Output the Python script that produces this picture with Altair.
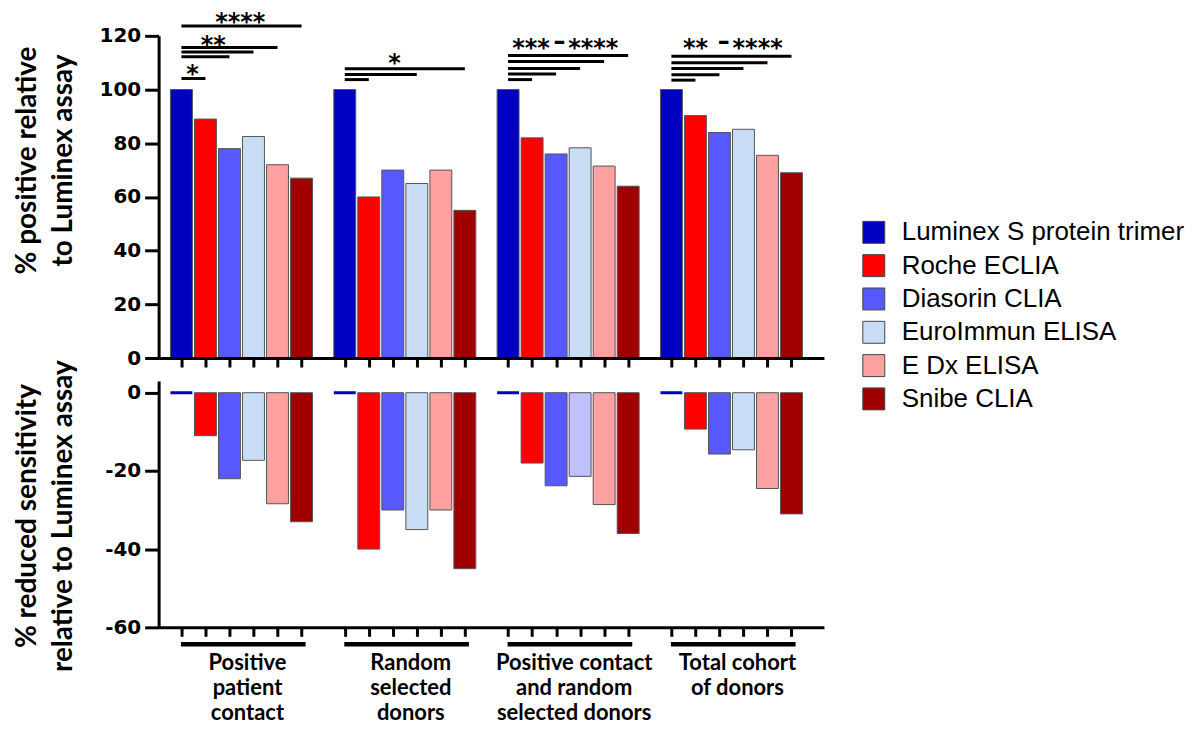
import altair as alt
import pandas as pd

# ---------------- data ----------------
groups = [
    "Positive\npatient\ncontact",
    "Random\nselected\ndonors",
    "Positive contact\nand random\nselected donors",
    "Total cohort\nof donors",
]
assays = [
    "Luminex S protein trimer",
    "Roche ECLIA",
    "Diasorin CLIA",
    "EuroImmun ELISA",
    "E Dx ELISA",
    "Snibe CLIA",
]
colors = ["#0000C0", "#FF0000", "#5858FF", "#C8DDF5", "#FFA0A0", "#A00000"]

# % positive relative to Luminex assay (one value per group)
luminex_pos = [100, 100, 100, 100]
roche_pos = [89, 60, 82, 90.3]
diasorin_pos = [78, 70, 76, 84]
euroimmun_pos = [82.5, 65, 78.3, 85.2]
edx_pos = [72, 70, 71.5, 75.5]
snibe_pos = [67, 55, 64, 69]

# % reduced sensitivity relative to Luminex assay
luminex_red = [0, 0, 0, 0]
roche_red = [-11, -40, -18, -9.3]
diasorin_red = [-22, -30, -23.8, -15.7]
euroimmun_red = [-17.3, -35, -21.4, -14.6]
edx_red = [-28.4, -30, -28.6, -24.5]
snibe_red = [-33, -45, -36, -31]

# significance bars: group index, comparator assay index, bar level
sig_bar_group = [0, 0, 0, 0, 0, 1, 1, 1, 2, 2, 2, 2, 2, 3, 3, 3, 3, 3]
sig_bar_to = [1, 2, 3, 4, 5, 1, 3, 5, 1, 2, 3, 4, 5, 1, 2, 3, 4, 5]
sig_bar_level = [104.1, 112.2, 114.0, 115.7, 123.7,
                 103.7, 105.6, 107.7,
                 103.7, 105.8, 107.8, 110.4, 112.7,
                 103.5, 105.5, 107.8, 110.0, 112.4]

# significance labels
sig_text = ["*", "**", "****", "*", "***", "\u2013", "****", "**", "\u2013", "****"]
sig_text_group = [0, 0, 0, 1, 2, 2, 2, 3, 3, 3]
sig_text_at = [0.46, 1.33, 2.45, 2.07, 0.95, 2.14, 3.55, 1.0, 2.18, 3.59]
sig_text_level = [102.9, 113.7, 122.3, 107.0, 112.6, 115.1, 112.6, 112.6, 115.1, 112.6]

pos_series = [luminex_pos, roche_pos, diasorin_pos, euroimmun_pos, edx_pos, snibe_pos]
red_series = [luminex_red, roche_red, diasorin_red, euroimmun_red, edx_red, snibe_red]

# ---------------- tables ----------------
GSTEP = 6.8
HALF = 0.456

rows = []
for gi, g in enumerate(groups):
    for ai, a in enumerate(assays):
        c = gi * GSTEP + ai
        rows.append(dict(group=g, gi=gi, assay=a, ai=ai, c=c, x0=c - HALF, x1=c + HALF,
                         top=pos_series[ai][gi], red=red_series[ai][gi]))
df = pd.DataFrame(rows)

sig_df = pd.DataFrame(dict(
    xs=[g * GSTEP for g in sig_bar_group],
    xe=[g * GSTEP + t for g, t in zip(sig_bar_group, sig_bar_to)],
    level=sig_bar_level,
))
sig_lab_df = pd.DataFrame(dict(
    tx=[g * GSTEP + a for g, a in zip(sig_text_group, sig_text_at)],
    ty=sig_text_level,
    label=sig_text,
))
grp_df = pd.DataFrame(dict(
    group=groups,
    gs=[gi * GSTEP - 0.02 for gi in range(len(groups))],
    ge=[gi * GSTEP + 5.17 for gi in range(len(groups))],
    gc=[gi * GSTEP + 2.75 for gi in range(len(groups))],
))

# ---------------- scales / axes ----------------
W = 667
H1 = 323
H2 = 247

xscale = alt.Scale(domain=[-0.95, 3 * GSTEP + 5 + 1.35], nice=False, zero=False)
tick_vals = [round(float(v), 3) for v in df["c"]]


def x_axis():
    return alt.Axis(values=tick_vals, tickCount=100, labels=False, labelOverlap=False,
                    title=None, grid=False, tickSize=9, tickWidth=3, tickColor="black",
                    domainWidth=3, domainColor="black", zindex=1)


def y_axis(values, title, title_y):
    return alt.Axis(values=values, title=title, grid=False,
                    tickSize=14, tickWidth=3, tickColor="black",
                    domainWidth=3, domainColor="black",
                    labelFont="DejaVu Sans", labelFontWeight="bold", labelFontSize=20,
                    labelColor="black", labelPadding=4, labelExpr="'' + datum.value",
                    titleFont="Lato", titleFontWeight="bold", titleFontSize=28,
                    titleColor="black", titleLineHeight=36, titleX=-117, titleY=title_y,
                    titleAngle=270, titleAlign="center", titleBaseline="bottom",
                    zindex=1)


color_scale = alt.Scale(domain=assays, range=colors)

legend = alt.Legend(title=None, orient="none", legendX=704, legendY=184,
                    symbolType="square", symbolSize=484, symbolStrokeColor="#444",
                    symbolStrokeWidth=1, symbolOpacity=1,
                    labelFont="Liberation Sans", labelFontSize=26, labelColor="black",
                    labelOffset=15, labelLimit=400, rowPadding=7.4, padding=0)

# ---------------- top panel ----------------
yax_top = y_axis([0, 20, 40, 60, 80, 100, 120], ["% positive relative", "to Luminex assay"], 124.5)

top_bars = alt.Chart(df).mark_bar(stroke="#555", strokeWidth=1).encode(
    x=alt.X("x0:Q", scale=xscale, axis=x_axis()),
    x2="x1:Q",
    y=alt.Y("top:Q", scale=alt.Scale(domain=[0, 120], nice=False), axis=yax_top),
    y2=alt.datum(0),
    color=alt.Color("assay:N", scale=color_scale, sort=assays, legend=legend),
)
top_rules = alt.Chart(sig_df).mark_rule(color="black", strokeWidth=3).encode(
    x="xs:Q", x2="xe:Q", y="level:Q"
)
top_text = alt.Chart(sig_lab_df).mark_text(
    font="DejaVu Sans", fontWeight="bold", fontSize=24, baseline="alphabetic",
    align="center", color="black"
).encode(x="tx:Q", y="ty:Q", text="label:N")

top = alt.layer(top_bars, top_rules, top_text).properties(width=W, height=H1)

# ---------------- bottom panel ----------------
yax_bot = y_axis([0, -20, -40, -60], ["% reduced sensitivity", "relative to Luminex assay"], 135)

bot_bars = alt.Chart(df).mark_bar().encode(
    x=alt.X("x0:Q", scale=xscale, axis=x_axis()),
    x2="x1:Q",
    y=alt.Y("red:Q", scale=alt.Scale(domain=[-60, 3], nice=False), axis=yax_bot),
    y2=alt.datum(0),
    color=alt.condition((alt.datum.gi == 2) & (alt.datum.ai == 3),
                        alt.value("#C0C0FF"),
                        alt.Color("assay:N", scale=color_scale, sort=assays, legend=None)),
    stroke=alt.condition(alt.datum.ai == 0, alt.value(colors[0]), alt.value("#555")),
    strokeWidth=alt.condition(alt.datum.ai == 0, alt.value(3), alt.value(1)),
)
bot_under = alt.Chart(grp_df).mark_rule(color="black", strokeWidth=4.5).encode(
    x="gs:Q", x2="ge:Q", y=alt.value(H2 + 17)
)
bot_labels = alt.Chart(grp_df).mark_text(
    font="Lato", fontWeight="bold", fontSize=22, lineBreak="\n", lineHeight=25,
    baseline="alphabetic", align="center", color="black"
).encode(x="gc:Q", y=alt.value(H2 + 43), text="group:N")

bottom = alt.layer(bot_bars, bot_under, bot_labels).properties(width=W, height=H2)

chart = alt.vconcat(top, bottom, spacing=23, bounds="flush").properties(
    padding={"left": 5, "top": 1, "right": 0, "bottom": 0}
).configure_view(stroke=None)

chart.save("out.html", embed_options={"renderer": "svg", "actions": False})
